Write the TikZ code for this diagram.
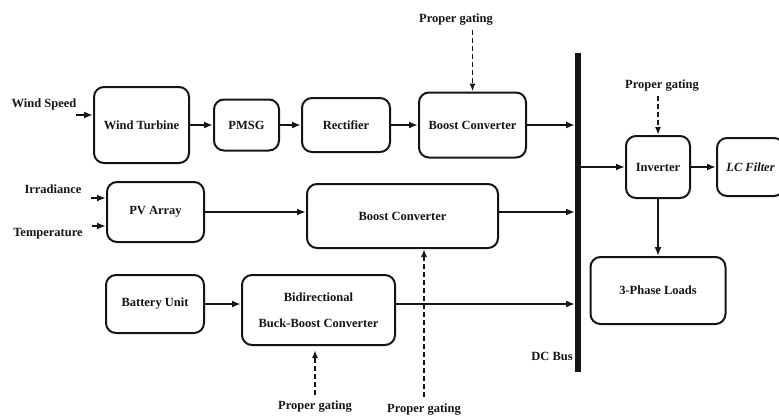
\documentclass[tikz,border=0pt]{standalone}
\usepackage{fontspec}
\setmainfont{Liberation Serif}
\usepackage{tikz}
\usetikzlibrary{arrows.meta, positioning}
\definecolor{inkblack}{HTML}{151515}
\newcommand{\blockfont}{\fontsize{12.5}{14}\selectfont\bfseries}
\tikzstyle{block} = [rectangle, rounded corners=10pt, draw=inkblack, line width=2pt, text=inkblack, text centered, inner sep=2pt]
\tikzstyle{arrow} = [line width=2pt, -{Latex[length=9pt,width=7pt]}, color=inkblack]
\tikzstyle{gate} = [line width=1.6pt, dash pattern=on 5pt off 3pt, -{Latex[length=8pt,width=6pt]}, color=inkblack]
\tikzstyle{sig} = [text=inkblack, inner sep=1pt]

\begin{document}
\begin{tikzpicture}[x=1pt, y=-1pt, node distance=20pt, every node/.style={font=\blockfont}]
    \clip (0,0) rectangle (779,418);

    % Wind row
    \node[block, minimum width=95pt, minimum height=76pt] (turbine) at (141.5,125) {Wind Turbine};
    \node[block, right=23pt of turbine, minimum width=65pt, minimum height=51pt] (pmsg) {PMSG};
    \node[block, right=21pt of pmsg, minimum width=88pt, minimum height=54pt] (rectifier) {Rectifier};
    \node[block, right=27pt of rectifier, minimum width=107pt, minimum height=65pt] (windboost) {Boost Converter};

    % PV row
    \node[block, minimum width=97pt, minimum height=60pt] (pv) at (155.5,212) {PV Array};
    \node[block, minimum width=191pt, minimum height=64pt] (pvboost) at (402.5,216) {Boost Converter};

    % Battery row
    \node[block, minimum width=98pt, minimum height=58pt] (battery) at (155,304) {Battery Unit};
    \node[block, minimum width=153pt, minimum height=70pt, align=center] (bidir) at (318.5,310) {Bidirectional\\[12pt]Buck-Boost Converter};

    % DC bus
    \coordinate (bustop) at (578,53);
    \coordinate (busbot) at (578,372);
    \draw[line width=6pt, inkblack] (bustop) -- (busbot);
    \node[sig, anchor=east] (buslbl) at (574,356) {DC Bus};

    % Output side
    \node[block, minimum width=64pt, minimum height=62pt] (inverter) at (658,167) {Inverter};
    \node[block, right=25pt of inverter, minimum width=67pt, minimum height=58pt, font=\blockfont\itshape] (lcfilter) {LC Filter};
    \node[block, below=57pt of inverter, minimum width=135pt, minimum height=67pt] (loads) {3-Phase Loads};

    % Input labels
    \node[sig] (wind) at (44,104) {Wind Speed};
    \node[sig] (irr) at (53,189) {Irradiance};
    \node[sig] (temp) at (48,234) {Temperature};
    \coordinate (windin) at (76,115);
    \coordinate (irrin) at (91,198);
    \coordinate (tempin) at (92,226);

    % Gating labels
    \node[sig] (gwind) at (456,20) {Proper gating};
    \node[sig] (ginv) at (662,86) {Proper gating};
    \node[sig] (gbidir) at (315,407) {Proper gating};
    \node[sig] (gpv) at (424,410) {Proper gating};

    % Arrows
    \draw[arrow] (windin) -- (windin -| turbine.west);
    \draw[arrow] (irrin) -- (irrin -| pv.west);
    \draw[arrow] (tempin) -- (tempin -| pv.west);
    \draw[arrow] (turbine) -- (pmsg);
    \draw[arrow] (pmsg) -- (rectifier);
    \draw[arrow] (rectifier) -- (windboost);
    \draw[arrow, shorten >=3pt] (windboost.east) -- (windboost.east -| bustop);
    \draw[arrow] (pv.east) -- (pv.east -| pvboost.west);
    \draw[arrow, shorten >=3pt] (pvboost.east |- pv.east) -- (pv.east -| bustop);
    \draw[arrow] (battery.east) -- (battery.east -| bidir.west);
    \draw[arrow, shorten >=3pt] (bidir.east |- battery.east) -- (battery.east -| bustop);
    \draw[arrow] (bustop |- inverter.west) -- (inverter.west);
    \draw[arrow] (inverter) -- (lcfilter);
    \draw[arrow] (inverter) -- (loads);

    % Gating signals
    \draw[gate, shorten <=3pt] (gwind.south -| windboost.north) -- (windboost.north);
    \draw[gate, shorten <=3pt] (ginv.south -| inverter.north) -- (inverter.north);
    \draw[gate, shorten <=5pt, shorten >=4pt] (gbidir.north) -- (gbidir.north |- bidir.south);
    \draw[gate, shorten <=6pt] (gpv.north) -- (gpv.north |- pvboost.south);
\end{tikzpicture}
\end{document}
